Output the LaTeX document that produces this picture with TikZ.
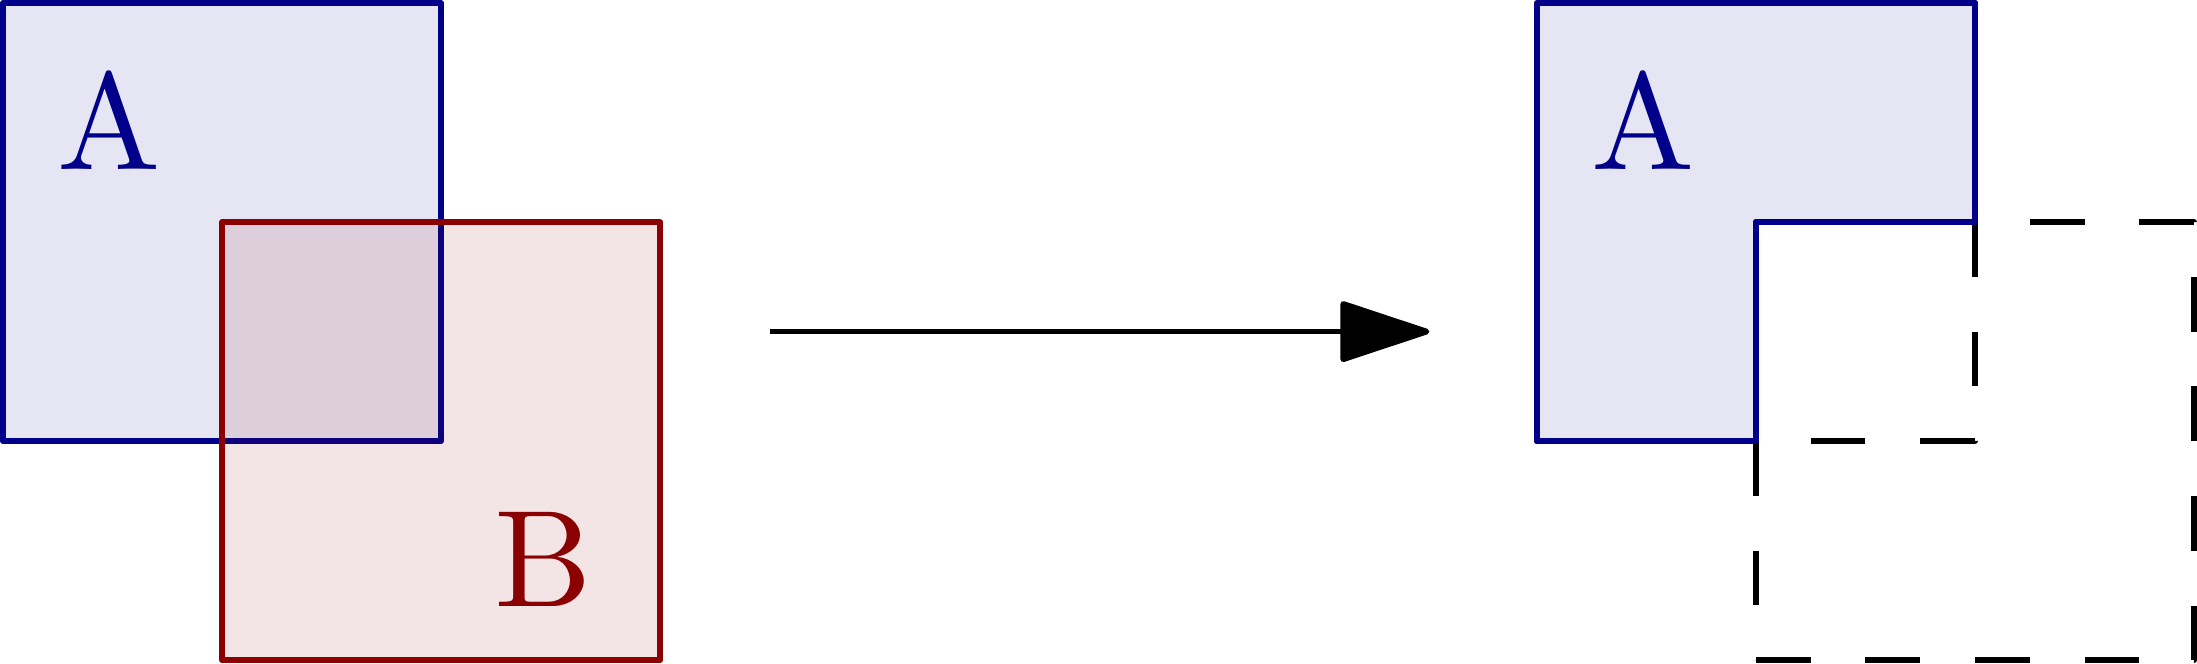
\documentclass[tikz,border=0pt]{standalone}
\usetikzlibrary{arrows.meta}
\definecolor{setblue}{RGB}{0,0,139}
\definecolor{setred}{RGB}{139,0,0}
\tikzset{
  ln/.style={line width=0.75pt, line join=round},
  bluebox/.style={ln, draw=setblue, fill=setblue, fill opacity=0.1, draw opacity=1},
  redbox/.style={ln, draw=setred, fill=setred, fill opacity=0.1, draw opacity=1},
  dashbox/.style={ln, draw=black, dash pattern=on 0.25cm off 0.25cm},
  lab/.style={inner sep=0pt, font=\normalsize, scale=1.79},
  bigarrow/.style={ln, -{Triangle[length=12.4pt,width=8pt,round]}}
}
\begin{document}
\begin{tikzpicture}
\useasboundingbox (-0.0132,-1.0132) rectangle (10.0132,2.0132);
% left: A and B overlapping
\path[bluebox] (0,0) rectangle (2,2);
\path[redbox] (1,-1) rectangle (3,1);
\node[lab, text=setblue] (la) at (0.486,1.463) {A};
\node[lab, text=setred] (lb) at (2.464,-0.538) {B};
% arrow
\coordinate (arrS) at (3.5,0.5);
\coordinate (arrE) at (6.51,0.5);
\draw[bigarrow] (arrS) -- (arrE);
% right: A \ B
\draw[dashbox] (8,-1) -- (10,-1) -- (10,1) -- (8,1) -- cycle;
\draw[dashbox] (7,2) -- (9,2) -- (9,0) -- (7,0) -- cycle;
\path[bluebox] (7,2) -- (9,2) -- (9,1) -- (8,1) -- (8,0) -- (7,0) -- cycle;
\node[lab, text=setblue] (ra) at (7.486,1.463) {A};
\end{tikzpicture}
\end{document}
